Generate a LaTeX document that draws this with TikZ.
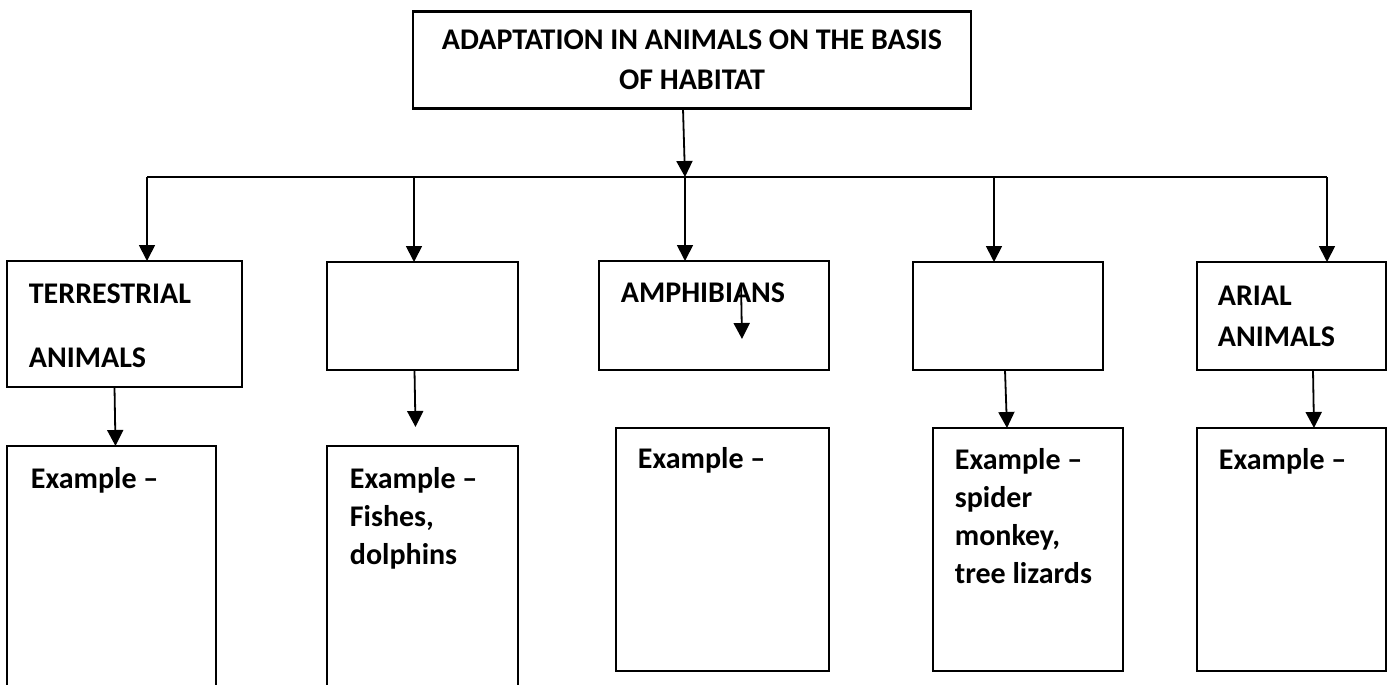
\documentclass[tikz,border=0pt]{standalone}
\usepackage{fontspec}
\setmainfont{Carlito}
\usetikzlibrary{positioning, arrows.meta}
\tikzset{
    habitat/.style={rectangle, draw=black, line width=1.1pt, outer sep=0pt, minimum width=279pt, minimum height=48.5pt, align=center, font=\bfseries\fontsize{15}{20}\selectfont},
    group/.style={rectangle, draw=black, line width=1.1pt, inner sep=0pt, outer sep=0pt, anchor=north west},
    eg/.style={rectangle, draw=black, line width=1.1pt, inner sep=0pt, outer sep=0pt},
    txt/.style={inner sep=0pt, align=left, font=\bfseries\fontsize{15}{19}\selectfont},
    >={Triangle[length=8pt, width=8pt]},
}

\begin{document}
\begin{tikzpicture}[x=0.5pt, y=-0.5pt, line width=0.9pt]
                        \useasboundingbox (0,0) rectangle (1394,685);
                        \clip (0,0) rectangle (1394,685);
                        \node [habitat] (habitat) at (692,60) {ADAPTATION IN ANIMALS ON THE BASIS\\OF HABITAT};
                        \node [group, minimum width=117.5pt, minimum height=63pt] (terr) at (7,261) {};
                        \node [group, minimum width=95.5pt, minimum height=54pt] (aqua) at (327,262) {};
                        \node [group, minimum width=115pt, minimum height=54.5pt] (amph) at (599,261) {};
                        \node [group, minimum width=95pt, minimum height=54pt] (arb) at (913,262) {};
                        \node [group, minimum width=94.5pt, minimum height=54pt] (arial) at (1197,262) {};
                        \node [eg, minimum width=104.5pt, minimum height=130pt] (ex1) [below=29.5pt of terr.south west, anchor=north west] {};
                        \node [eg, minimum width=95.5pt, minimum height=130pt] (ex2) [below=38pt of aqua.south west, anchor=north west] {};
                        \node [eg, minimum width=106.5pt, minimum height=121.5pt] (ex3) [below right=29pt and 8.5pt of amph.south west] {};
                        \node [eg, minimum width=95pt, minimum height=121.5pt] (ex4) [below right=29pt and 10pt of arb.south west] {};
                        \node [eg, minimum width=94.5pt, minimum height=121.5pt] (ex5) [below=29pt of arial.south west, anchor=north west] {};
                        \node [txt] (terrtxt) [below right=11pt and 10.5pt of terr.north west] {TERRESTRIAL\\[13pt]ANIMALS};
                        \node [txt] (amphtxt) [below right=10.5pt and 10.5pt of amph.north west] {AMPHIBIANS};
                        \node [txt] (arialtxt) [below right=11.5pt and 10pt of arial.north west] {ARIAL\\[1.5pt]ANIMALS};
                        \node [txt] (ex1txt) [below right=10.5pt and 11.5pt of ex1.north west] {Example –};
                        \node [txt] (ex2txt) [below right=10.5pt and 11pt of ex2.north west] {Example –\\Fishes,\\dolphins};
                        \node [txt] (ex3txt) [below right=9.5pt and 10.5pt of ex3.north west] {Example –};
                        \node [txt] (ex4txt) [below right=10pt and 10.5pt of ex4.north west] {Example –\\spider\\monkey,\\tree lizards};
                        \node [txt] (ex5txt) [below right=10pt and 10.5pt of ex5.north west] {Example –};
                        \coordinate (b1) at (147,177);
                        \coordinate (b2) at (414,177);
                        \coordinate (b3) at (685,177);
                        \coordinate (b4) at (994,177);
                        \coordinate (b5) at (1327,177);
                        \coordinate (amphtop) at (741,283);
                        \coordinate (amphend) at (742,339);
                        \draw[->] ([xshift=-4.5pt]habitat.south) -- (b3);
                        \draw (b1) -- (b5);
                        \draw[->] (b1) -- (b1 |- terr.north);
                        \draw[->] (b2) -- (b2 |- aqua.north);
                        \draw[->] (b3) -- (b3 |- amph.north);
                        \draw[->] (b4) -- (b4 |- arb.north);
                        \draw[->] (b5) -- (b5 |- arial.north);
                        \draw[->] ([xshift=-5pt]terr.south) -- ([xshift=2pt]ex1.north);
                        \draw[->] ([xshift=-4pt]aqua.south) -- ([xshift=-3.5pt, yshift=9.5pt]ex2.north);
                        \draw[->] (amphtop) -- (amphend);
                        \draw[->] ([xshift=-1.5pt]arb.south) -- ([xshift=-10.5pt]ex4.north);
                        \draw[->] ([xshift=10.75pt]arial.south) -- ([xshift=11.25pt]ex5.north);
                    \end{tikzpicture}
\end{document}
